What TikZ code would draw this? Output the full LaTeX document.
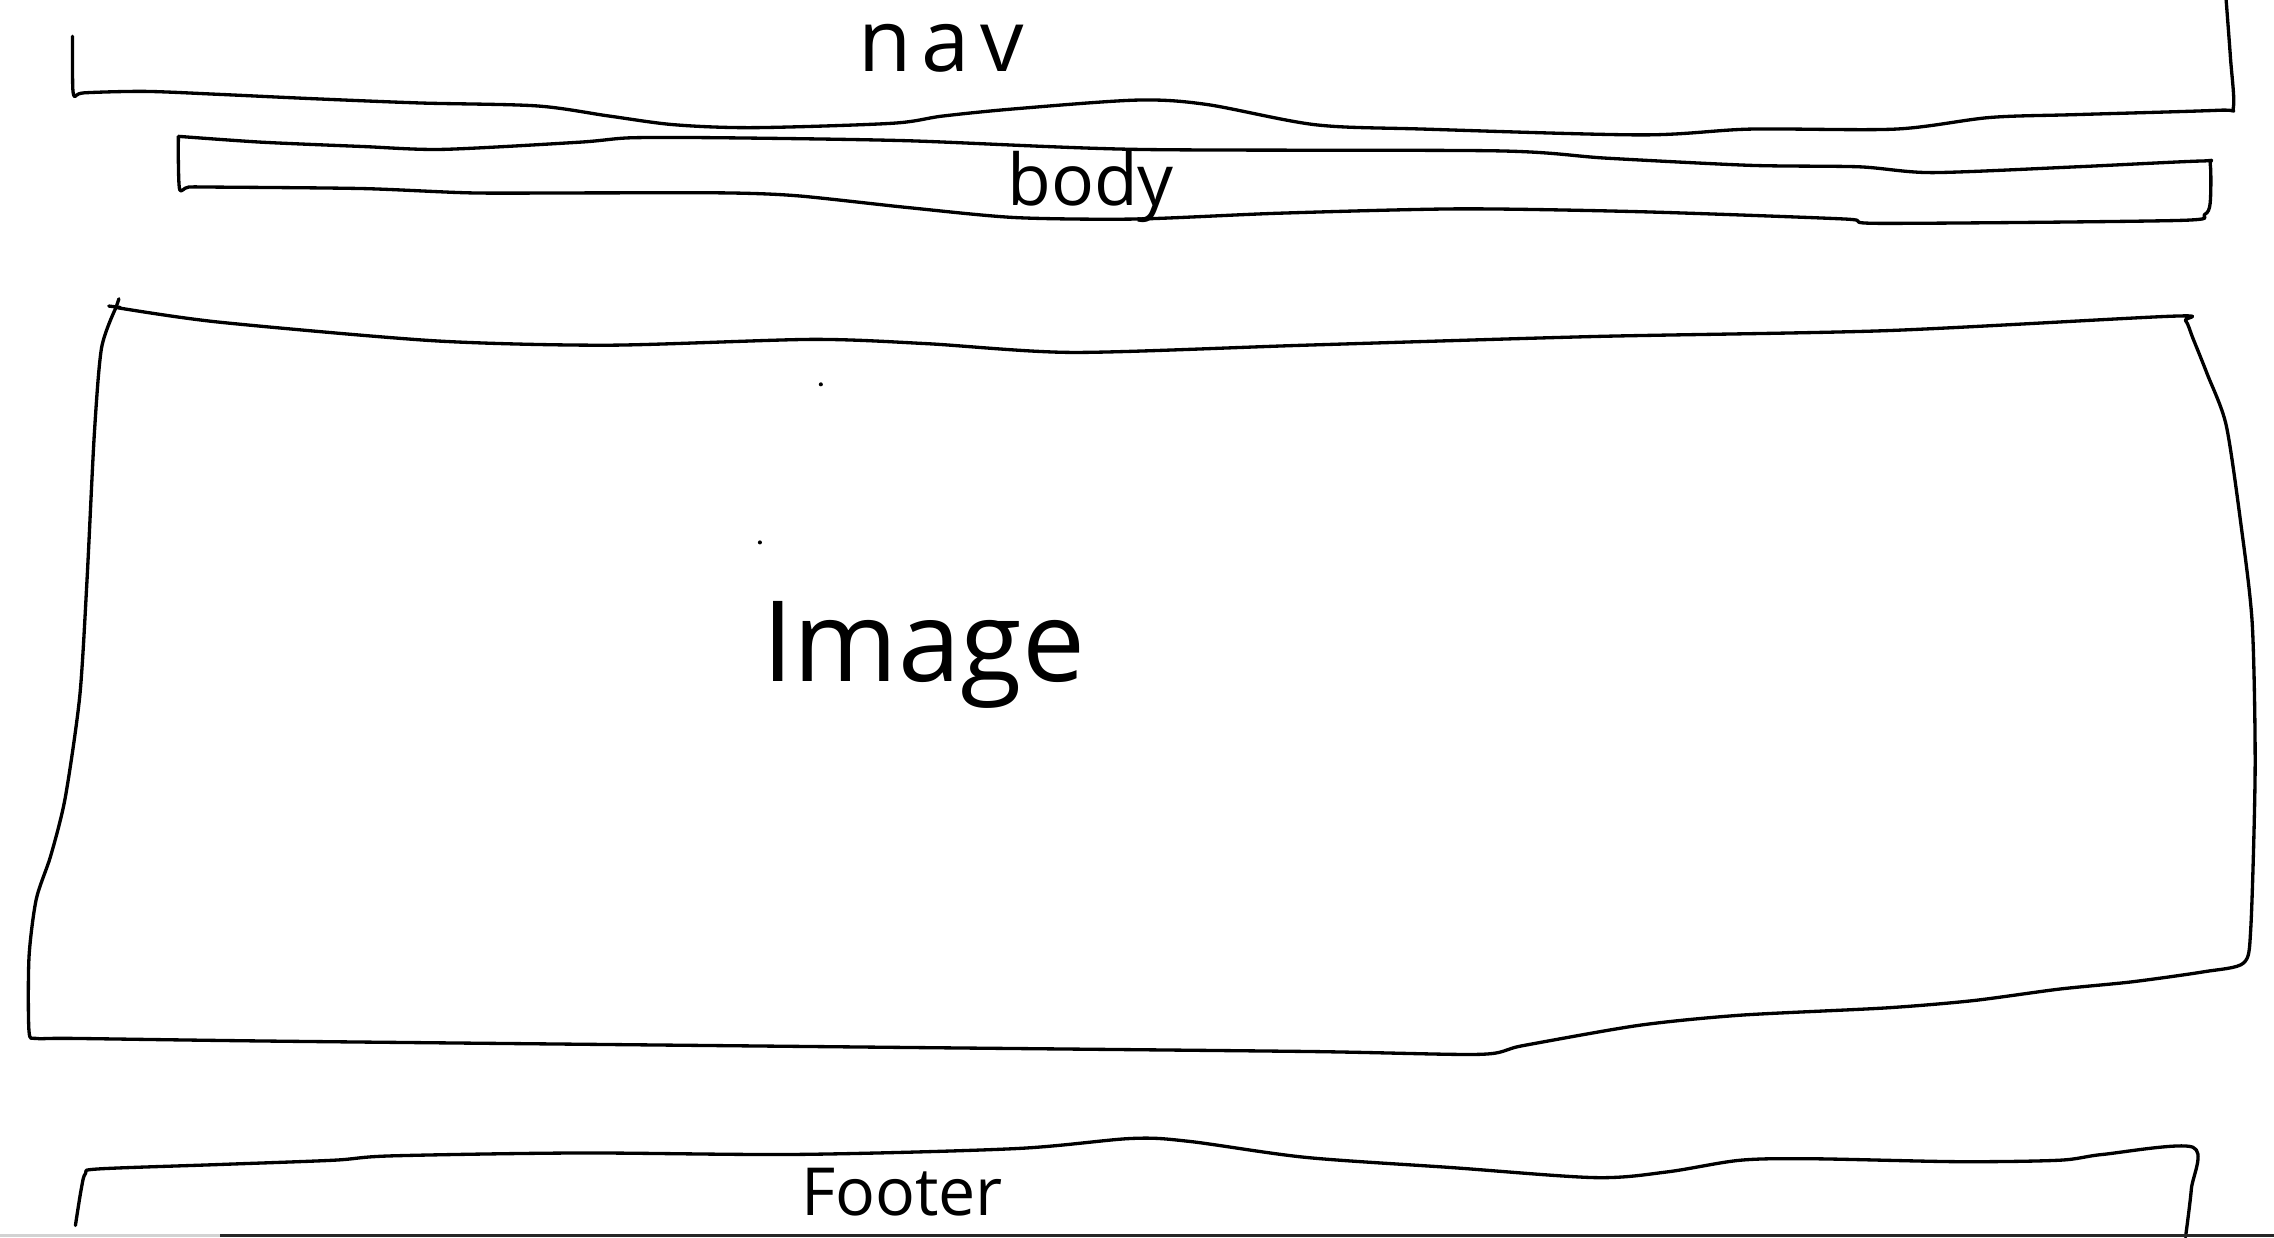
\documentclass[tikz,border=0pt]{standalone}
\usepackage{fontspec}
\setmainfont{Open Sans}
\usetikzlibrary{positioning}

\tikzset{
  sketch/.style={line width=0.65pt, line join=round, line cap=round},
  hand/.style={inner sep=0pt, anchor=base}
}

\begin{document}
\begin{tikzpicture}[x=0.01cm, y=-0.01cm]
  \useasboundingbox (0,0) rectangle (1568,853);

  % nav strip (open at the top)
  \draw[sketch] plot[smooth, tension=0.5] coordinates {
    (50,25) (50,50) (51,66) (58,64) (100,63) (150,65) (215,68) (290,71)
    (370,73) (420,80) (465,86) (520,88) (615,85) (650,80) (700,75) (784,69)
    (832,72) (907,86) (982,89) (1132,93) (1207,89) (1307,89) (1372,81)
    (1432,79) (1530,76) (1540,74) (1538,40) (1535,0)};
  \node[hand, font=\fontsize{17}{17}\selectfont\addfontfeatures{LetterSpace=12}] (navlabel) at (649,49) {nav};

  % body strip
  \draw[sketch] plot[smooth, tension=0.45] coordinates {
    (123,94) (180,98) (250,101) (305,103) (400,98) (435,95) (500,95) (625,97)
    (784,103) (1032,104) (1107,109) (1207,114) (1282,115) (1332,119)
    (1432,115) (1518,111) (1524,113) (1524,140) (1520,148) (1502,152)
    (1297,154) (1272,151) (1132,146) (1007,144) (882,147) (784,151)
    (700,150) (625,143) (550,135) (500,133) (400,133) (325,133) (250,130)
    (150,129) (130,129) (124,131) (123,112) (123,94)};
  \node[hand, font=\fontsize{14}{14}\selectfont] (bodylabel) at (752,142) {body};

  % image area
  \draw[sketch] plot[smooth, tension=0.45] coordinates {
    (80,212) (150,222) (300,235) (420,238) (560,234) (640,237) (740,243)
    (900,238) (1100,232) (1300,228) (1498,218) (1507,221) (1512,233)
    (1522,258) (1535,293) (1545,360) (1553,430) (1555,530) (1552,640)
    (1547,664) (1520,670) (1470,677) (1420,682) (1360,690) (1300,695)
    (1200,700) (1130,707) (1050,721) (1020,727) (900,725) (600,722)
    (200,718) (50,716) (25,716) (20,711) (20,660) (25,620) (35,590)
    (45,550) (55,480) (60,400) (65,300) (70,240) (80,212)};
  \draw[sketch] (75,211) -- (83,212);
  \draw[sketch] (80,212) -- (82,206);
  \fill (566,265) circle (1.4);
  \fill (524,374) circle (1.4);
  \node[hand, font=\fontsize{22}{22}\selectfont] (imagelabel) at (637,470) {Image};

  % footer strip (open at the bottom)
  \draw[sketch] plot[smooth, tension=0.5] coordinates {
    (52,845) (56,820) (59,809) (68,806) (150,803) (230,800) (270,797)
    (400,795) (550,796) (700,792) (780,785) (820,787) (900,798) (1000,805)
    (1100,812) (1150,808) (1200,800) (1250,799) (1350,801) (1420,800)
    (1450,796) (1512,791) (1511,820) (1507,853)};
  \node[hand, font=\fontsize{13}{13}\selectfont] (footerlabel) at (622,838) {Footer};

  % window edge
  \draw[gray!35, line width=0.6pt] (0,852) -- (152,852);
  \draw[black!85, line width=0.6pt] (152,852) -- (1568,852);
\end{tikzpicture}
\end{document}
